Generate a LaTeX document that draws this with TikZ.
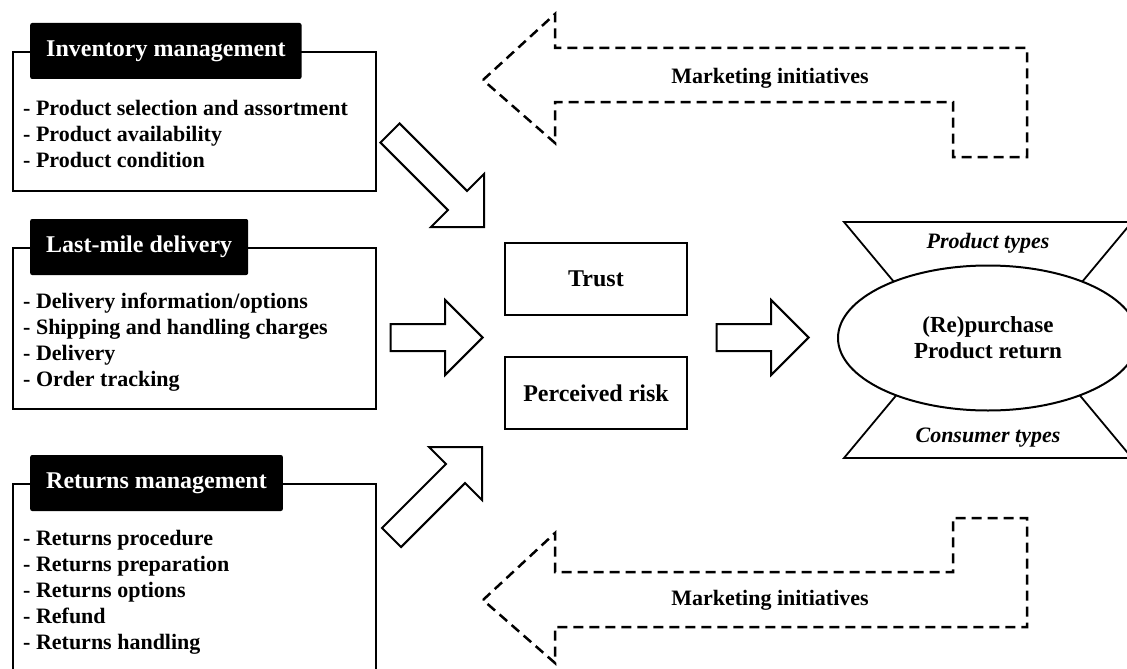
\documentclass[tikz,border=0pt]{standalone}
\usepackage{fontspec}
\setmainfont{Liberation Serif}
\usetikzlibrary{shapes.geometric, shapes.arrows, positioning}

\begin{document}
\begin{tikzpicture}[
    x=1pt, y=-1pt,
    node distance=40pt,
    panel/.style={rectangle, draw=black, line width=1.8pt, minimum width=363pt,
                  anchor=north west, inner sep=0pt},
    header/.style={rectangle, rounded corners=2pt, fill=black, text=white, minimum height=56pt,
                   inner xsep=16pt, anchor=west, font=\fontsize{24}{28}\selectfont\bfseries},
    items/.style={align=left, anchor=north west, inner sep=0pt, font=\fontsize{22}{26}\selectfont\bfseries},
    factor/.style={rectangle, draw, line width=2pt, minimum width=182pt, minimum height=72pt,
                   font=\fontsize{24}{28}\selectfont\bfseries},
    fatarrow/.style={single arrow, draw, line width=2pt, minimum height=#1, minimum width=73pt,
                     single arrow head extend=24pt, inner xsep=0pt, inner ysep=12.5pt, anchor=tip},
    mktarrow/.style={dash pattern=on 10pt off 6pt, line width=2.5pt},
    mkt/.style={font=\fontsize{22}{26}\selectfont\bfseries},
    outcome/.style={ellipse, draw, fill=white, line width=2pt, minimum width=300pt, minimum height=145pt,
                    align=center, font=\fontsize{23}{26}\selectfont\bfseries},
    segment/.style={font=\fontsize{22}{26}\selectfont\bfseries\itshape},
    hourglass/.style={draw, fill=white, line width=1.8pt}
]
\useasboundingbox (0,0) rectangle (1127,669);

\node[panel, minimum height=139pt] (invbox) at (12,51) {};
\node[header] (invhead) at (30,51) {Inventory management};
\node[items] (invlist) at (23,100) {- Product selection and assortment\\- Product availability\\- Product condition};

\node[panel, minimum height=161pt] (delbox) at (12,247) {};
\node[header] (delhead) at (30,247) {Last-mile delivery};
\node[items] (dellist) at (23,293) {- Delivery information/options\\- Shipping and handling charges\\- Delivery\\- Order tracking};

\node[panel, minimum height=230pt] (retbox) at (12,483) {};
\node[header] (rethead) at (30,483) {Returns management};
\node[items] (retlist) at (23,530) {- Returns procedure\\- Returns preparation\\- Returns options\\- Refund\\- Returns handling};

\node[factor] (trust) at (596,279) {Trust};
\node[factor, below=of trust] (risk) {Perceived risk};

\draw[hourglass] (844,222) -- (1132,222) -- (1042,330) -- (934,330) -- cycle;
\draw[hourglass] (844,458) -- (1132,458) -- (1042,350) -- (934,350) -- cycle;
\node[outcome] (buy) at (988,338) {(Re)purchase\\Product return};
\node[segment] (prodtypes) at (988,243) {Product types};
\node[segment] (constypes) at (988,438) {Consumer types};

\node[fatarrow=133pt, rotate=-45] (arrowinv) at (485,228) {};
\node[fatarrow=92pt] (arrowdel) at (484,337.5) {};
\node[fatarrow=128pt, rotate=45] (arrowret) at (483,446) {};
\node[fatarrow=92pt] (arrowout) at (810,337.5) {};

\draw[mktarrow] (483,80) -- (555,14) -- (555,48) -- (1027,48) -- (1027,157) -- (953,157)
    -- (953,102) -- (555,102) -- (555,143) -- cycle;
\node[mkt] (mkttop) at (770,78) {Marketing initiatives};
\draw[mktarrow] (483,600) -- (555,533) -- (555,572) -- (953,572) -- (953,518) -- (1027,518)
    -- (1027,627) -- (555,627) -- (555,663) -- cycle;
\node[mkt] (mktbottom) at (770,600) {Marketing initiatives};
\end{tikzpicture}
\end{document}
